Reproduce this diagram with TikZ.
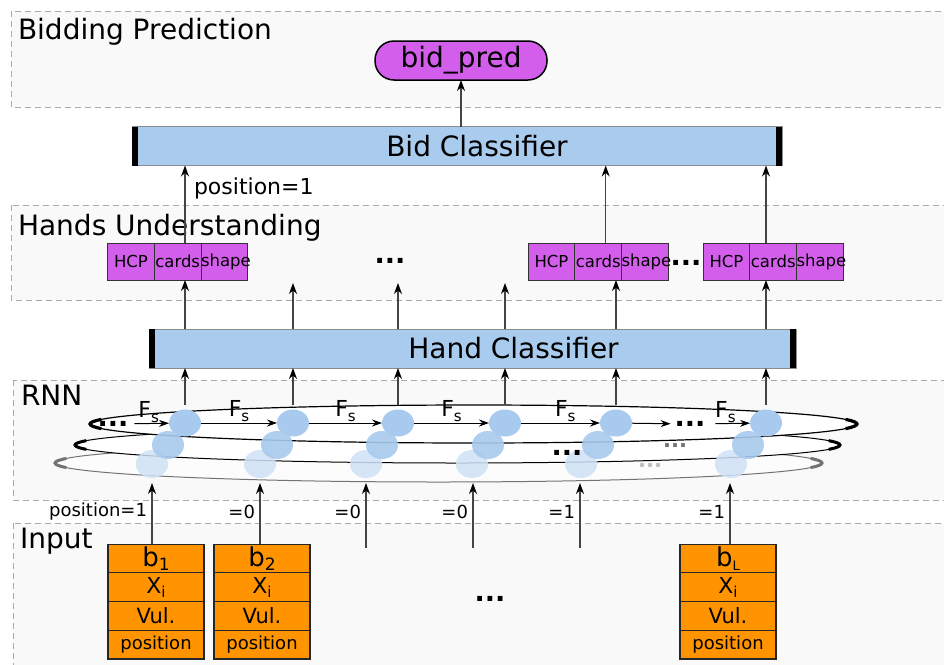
\documentclass[tikz,border=0pt]{standalone}
\usepackage{fontspec}
\setmainfont{DejaVu Sans}
\usetikzlibrary{arrows.meta,positioning,shapes.geometric}
\definecolor{panelfill}{RGB}{249,249,249}
\definecolor{panelline}{RGB}{170,170,170}
\definecolor{clsblue}{RGB}{169,203,238}
\definecolor{cellblue}{RGB}{168,202,238}
\definecolor{paleblue}{RGB}{207,225,246}
\definecolor{cellpurple}{RGB}{212,94,236}
\definecolor{inorange}{RGB}{255,148,0}
\definecolor{wiregray}{RGB}{68,68,68}
\newcommand{\pxfont}[1]{\fontsize{#1}{#1}\selectfont}

\begin{document}
\begin{tikzpicture}[x=1pt,y=-1pt,
  node distance=0pt,
  every node/.style={inner sep=0pt,outer sep=0pt,align=center},
  panel/.style={draw=panelline,dash pattern=on 6pt off 4pt,fill=panelfill,line width=1pt},
  panellabel/.style={anchor=base west,font=\pxfont{28}},
  classifier/.style={draw=black!45,fill=clsblue,minimum width=#1,minimum height=39pt,font=\pxfont{28}},
  predbox/.style={draw=black,line width=1.5pt,fill=cellpurple,rounded corners=19pt,
                  minimum width=172pt,minimum height=39pt,font=\pxfont{28}},
  hcell/.style={draw=black!80,line width=0.8pt,fill=cellpurple,text width=46.7pt,
                minimum height=37pt,font=\pxfont{16.5}},
  inrow/.style={draw=black!85,line width=1.2pt,fill=inorange,minimum width=96pt,minimum height=28.7pt},
  rnncell/.style={ellipse,fill=cellblue,minimum width=32pt,minimum height=27pt},
  dots/.style={font=\pxfont{27}\bfseries},
  dimdots/.style={font=\pxfont{21}\bfseries},
  poslbl/.style={font=\pxfont{18}},
  fslbl/.style={font=\pxfont{22},above=1pt},
  arr/.style={draw=wiregray,line width=1.3pt,-{Stealth[length=11pt,width=8pt,color=black]}},
  fsarr/.style={draw=black,line width=1pt,-{Stealth[length=10pt,width=7pt]}}
]
\useasboundingbox (0,0) rectangle (944,664);
\clip (0,0) rectangle (944,664);

% panels
\draw[panel] (11,11) rectangle (960,107);
\draw[panel] (11,205) rectangle (960,300);
\draw[panel] (13,380) rectangle (960,500);
\draw[panel] (13,523) rectangle (960,680);
\node[panellabel] (bidlbl) at (18,39) {Bidding Prediction};
\node[panellabel] (handlbl) at (18,235) {Hands Understanding};
\node[panellabel] (rnnlbl) at (21,405) {RNN};
\node[panellabel] (inlbl) at (20,548) {Input};

% prediction and classifiers
\node[predbox] (bidpred) at (461,60.5) {bid\_pred};
\node[classifier=650pt] (bidcls) at (457,146) {\hspace*{40pt}Bid Classifier};
\node[classifier=647pt] (handcls) at (472.5,348.5) {\hspace*{82pt}Hand Classifier};
\fill (bidcls.north west) rectangle ([xshift=6pt]bidcls.south west);
\fill (bidcls.north east) rectangle ([xshift=-6pt]bidcls.south east);
\fill (handcls.north west) rectangle ([xshift=6pt]handcls.south west);
\fill (handcls.north east) rectangle ([xshift=-6pt]handcls.south east);

% hands understanding
\node[hcell] (hcp1) at (131,261.5) {HCP};
\node[hcell,right=of hcp1] (cards1) {cards};
\node[hcell,right=of cards1] (shape1) {shape};
\node[hcell] (hcp2) at (551.5,261.5) {HCP};
\node[hcell,right=of hcp2] (cards2) {cards};
\node[hcell,right=of cards2] (shape2) {shape};
\node[hcell] (hcp3) at (726.5,261.5) {HCP};
\node[hcell,right=of hcp3] (cards3) {cards};
\node[hcell,right=of cards3] (shape3) {shape};
\node[dots] (hdots1) at (390,261) {...};
\node[dots] (hdots2) at (686,263) {...};

% RNN layers
\fill[black!1] (438.5,463) ellipse [x radius=383.5,y radius=19];
\draw[black!55,line width=1pt] (438.5,463) ellipse [x radius=383.5,y radius=19];
\draw[black!55,line width=3pt] (438.5,463) ++(166:383.5 and 19)
  arc[start angle=166,end angle=194,x radius=383.5,y radius=19];
\draw[black!55,line width=3pt] (438.5,463) ++(-14:383.5 and 19)
  arc[start angle=-14,end angle=14,x radius=383.5,y radius=19];
\fill[white] (457.5,445) ellipse [x radius=382.5,y radius=18];
\draw[black,line width=1pt] (457.5,445) ellipse [x radius=382.5,y radius=18];
\draw[black,line width=3pt] (457.5,445) ++(166:382.5 and 18)
  arc[start angle=166,end angle=194,x radius=382.5,y radius=18];
\draw[black,line width=3pt] (457.5,445) ++(-14:382.5 and 18)
  arc[start angle=-14,end angle=14,x radius=382.5,y radius=18];
\node[dimdots,text=black!25] (lowdots) at (650,466) {...};
\fill[white] (473.5,424) ellipse [x radius=383.5,y radius=19];
\draw[black,line width=1.2pt] (473.5,424) ellipse [x radius=383.5,y radius=19];
\draw[black,line width=3.2pt] (473.5,424) ++(166:383.5 and 19)
  arc[start angle=166,end angle=194,x radius=383.5,y radius=19];
\draw[black,line width=3.2pt] (473.5,424) ++(-14:383.5 and 19)
  arc[start angle=-14,end angle=14,x radius=383.5,y radius=19];
\node[dimdots,text=black!55] (middotsb) at (675,446) {...};
\foreach \x in {152,260,366,472,581,731}
  \fill[paleblue,opacity=0.85] (\x,464) ellipse [x radius=16,y radius=14];
\foreach \x in {168,277,382,488,598,748}
  \fill[cellblue,opacity=0.9] (\x,445) ellipse [x radius=16,y radius=14];
\node[dots] (middots) at (567,453) {...};

\node[dots] (ldots) at (113,424) {...};
\node[rnncell] (r1) at (185,423) {};
\node[rnncell] (r2) at (293,423) {};
\node[rnncell] (r3) at (398,423) {};
\node[rnncell] (r4) at (505,423) {};
\node[rnncell] (r5) at (616,423) {};
\node[dots] (rdots) at (690,424) {...};
\node[rnncell] (r6) at (766,423) {};
\draw[fsarr,shorten <=6pt] (ldots) -- node[fslbl] (fs1) {F\raisebox{-5pt}{\pxfont{15}s}} (r1);
\draw[fsarr] (r1) -- node[fslbl] (fs2) {F\raisebox{-5pt}{\pxfont{15}s}} (r2);
\draw[fsarr] (r2) -- node[fslbl] (fs3) {F\raisebox{-5pt}{\pxfont{15}s}} (r3);
\draw[fsarr] (r3) -- node[fslbl] (fs4) {F\raisebox{-5pt}{\pxfont{15}s}} (r4);
\draw[fsarr] (r4) -- node[fslbl,pos=0.56] (fs5) {F\raisebox{-5pt}{\pxfont{15}s}} (r5);
\draw[fsarr,shorten >=4pt] (r5) -- (rdots);
\draw[fsarr,shorten <=10pt] (rdots) -- node[fslbl,pos=0.45] (fs6) {F\raisebox{-5pt}{\pxfont{15}s}} (r6);

% input
\node[inrow] (b1) at (156,558.5) {\pxfont{26}b\raisebox{-4pt}{\pxfont{17}1}};
\node[inrow,below=of b1] (x1) {\pxfont{22}X\raisebox{-4pt}{\pxfont{15}i}};
\node[inrow,below=of x1] (v1) {\pxfont{21}Vul.};
\node[inrow,below=of v1] (p1) {\pxfont{18}position};
\node[inrow] (b2) at (262,558.5) {\pxfont{26}b\raisebox{-4pt}{\pxfont{17}2}};
\node[inrow,below=of b2] (x2) {\pxfont{22}X\raisebox{-4pt}{\pxfont{15}i}};
\node[inrow,below=of x2] (v2) {\pxfont{21}Vul.};
\node[inrow,below=of v2] (p2) {\pxfont{18}position};
\node[inrow] (bL) at (728,558.5) {\pxfont{26}b\raisebox{-4pt}{\pxfont{13}L}};
\node[inrow,below=of bL] (xL) {\pxfont{22}X\raisebox{-4pt}{\pxfont{15}i}};
\node[inrow,below=of xL] (vL) {\pxfont{21}Vul.};
\node[inrow,below=of vL] (pL) {\pxfont{18}position};
\node[dots] (indots) at (490,599) {...};

% connections
\coordinate (rnnin1) at (152,483);
\coordinate (rnnin2) at (260,483);
\coordinate (rnnin3) at (366,483);
\coordinate (rnnin4) at (473,483);
\coordinate (rnnin5) at (580,483);
\coordinate (rnnin6) at (730,483);
\coordinate (infree) at (0,548);
\coordinate (hfree) at (0,283);
\draw[arr] (b1.north -| rnnin1) -- node[pos=0.53,left=5pt,poslbl] (pos1) {position=1} (rnnin1);
\draw[arr] (b2.north -| rnnin2) -- node[pos=0.53,left=5pt,poslbl] (pos2) {=0} (rnnin2);
\draw[arr] (infree -| rnnin3) -- node[pos=0.55,left=5pt,poslbl] (pos3) {=0} (rnnin3);
\draw[arr] (infree -| rnnin4) -- node[pos=0.55,left=5pt,poslbl] (pos4) {=0} (rnnin4);
\draw[arr] (infree -| rnnin5) -- node[pos=0.55,left=5pt,poslbl] (pos5) {=1} (rnnin5);
\draw[arr] (bL.north -| rnnin6) -- node[pos=0.53,left=5pt,poslbl] (pos6) {=1} (rnnin6);

\draw[arr] ([yshift=5pt]r1.north) -- (r1 |- handcls.south);
\draw[arr] ([yshift=5pt]r2.north) -- (r2 |- handcls.south);
\draw[arr] ([yshift=5pt]r3.north) -- (r3 |- handcls.south);
\draw[arr] ([yshift=5pt]r4.north) -- (r4 |- handcls.south);
\draw[arr] ([yshift=5pt]r5.north) -- (r5 |- handcls.south);
\draw[arr] ([yshift=5pt]r6.north) -- (r6 |- handcls.south);

\draw[arr] (handcls.north -| r1) -- (cards1.south -| r1);
\draw[arr] (handcls.north -| r2) -- (hfree -| r2);
\draw[arr] (handcls.north -| r3) -- (hfree -| r3);
\draw[arr] (handcls.north -| r4) -- (hfree -| r4);
\draw[arr] (handcls.north -| r5) -- (cards2.south -| r5);
\draw[arr] (handcls.north -| r6) -- (cards3.south -| r6);

\coordinate (c2top) at ([xshift=7.5pt]cards2.north);
\draw[arr] (cards1.north -| r1) -- node[pos=0.71,right=9pt,font=\pxfont{22}] (toplbl) {position=1}
  (bidcls.south -| r1);
\draw[arr] (c2top) -- (bidcls.south -| c2top);
\draw[arr] (cards3.north -| r6) -- (bidcls.south -| r6);
\draw[arr] (bidcls.north -| bidpred) -- (bidpred.south);
\end{tikzpicture}
\end{document}
